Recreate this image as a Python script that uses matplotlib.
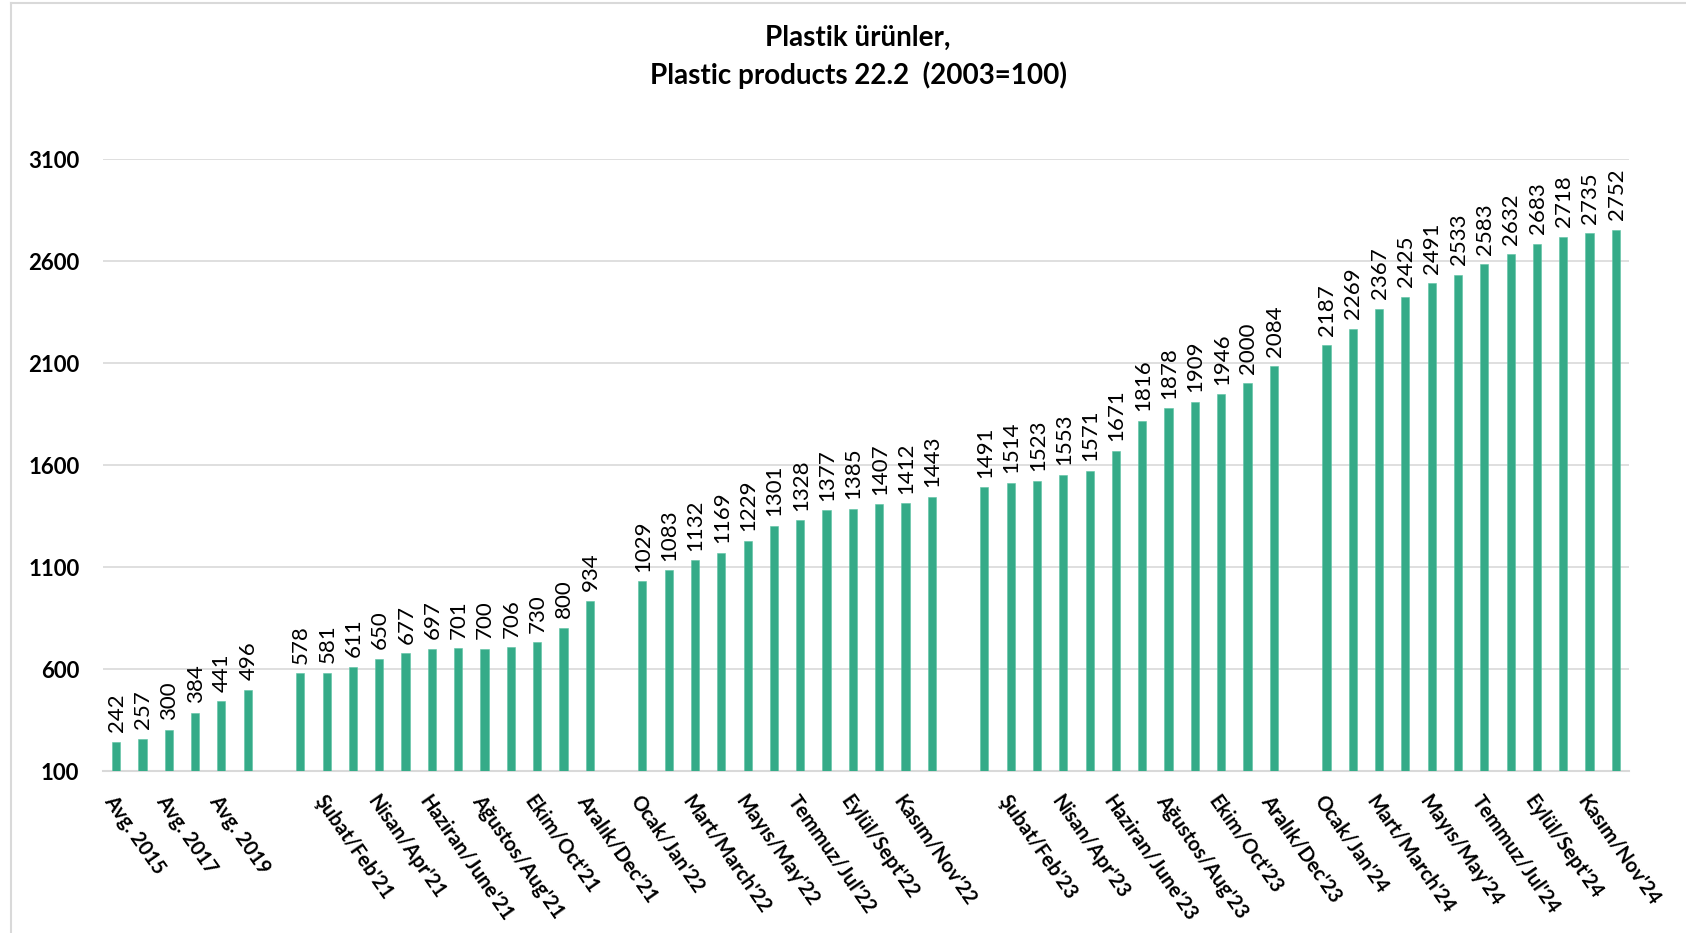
import numpy as np
import matplotlib
matplotlib.use("Agg")
import matplotlib.pyplot as plt
from matplotlib.lines import Line2D

plt.rcParams['font.family'] = ['Lato', 'DejaVu Sans']

# ---- data ----
avg_labels = ["Avg. 2015", "Avg. 2016", "Avg. 2017", "Avg. 2018", "Avg. 2019", "Avg. 2020"]
avg_values = [242, 257, 300, 384, 441, 496]

months_tr_en = ["Ocak/Jan", "Şubat/Feb", "Mart/March", "Nisan/Apr", "Mayıs/May", "Haziran/June",
                "Temmuz/Jul", "Ağustos/Aug", "Eylül/Sept", "Ekim/Oct", "Kasım/Nov", "Aralık/Dec"]

values_2021 = [578, 581, 611, 650, 677, 697, 701, 700, 706, 730, 800, 934]
values_2022 = [1029, 1083, 1132, 1169, 1229, 1301, 1328, 1377, 1385, 1407, 1412, 1443]
values_2023 = [1491, 1514, 1523, 1553, 1571, 1671, 1816, 1878, 1909, 1946, 2000, 2084]
values_2024 = [2187, 2269, 2367, 2425, 2491, 2533, 2583, 2632, 2683, 2718, 2735, 2752]

y_ticks = [100, 600, 1100, 1600, 2100, 2600, 3100]

# build category sequence with blank gap categories between groups
categories = []
values = []
def add_group(labels, vals, gap=True):
    categories.extend(labels)
    values.extend(vals)
    if gap:
        categories.append("")
        values.append(np.nan)

add_group(avg_labels, avg_values)
add_group([f"{m}'21" for m in months_tr_en], values_2021)
add_group([f"{m}'22" for m in months_tr_en], values_2022)
add_group([f"{m}'23" for m in months_tr_en], values_2023)
add_group([f"{m}'24" for m in months_tr_en], values_2024, gap=False)

x = np.arange(len(categories))
values = np.array(values, dtype=float)

# ---- figure ----
W, H = 1686, 933
fig = plt.figure(figsize=(W / 100, H / 100), dpi=100)
fig.patch.set_facecolor('white')
ax = fig.add_axes([103 / W, 1 - 771 / H, (1629 - 103) / W, (771 - 159) / H])

bar_color = '#35AB88'
mask = ~np.isnan(values)
ax.bar(x[mask], values[mask] - 100, bottom=100, width=0.31, color=bar_color,
       edgecolor='#5CC3A3', linewidth=0.4, zorder=3)

for xi, v in zip(x[mask], values[mask]):
    ax.annotate(f"{int(v)}", (xi, v), xytext=(0.5, 7), textcoords='offset points',
                rotation=90, ha='center', va='bottom', fontsize=16, color='black',
                annotation_clip=False)

ax.set_xlim(-0.5, len(categories) - 0.5)
ax.set_ylim(100, 3100)
ax.set_yticks(y_ticks)
ax.set_yticklabels([str(t) for t in y_ticks], fontsize=16, fontweight='bold')
ax.yaxis.grid(True, color='#D9D9D9', linewidth=1.2, zorder=0)
ax.set_axisbelow(True)

shown = [c if i % 2 == 0 else "" for i, c in enumerate(categories)]
ax.set_xticks(x)
ax.set_xticklabels(shown, rotation=-55, ha='left', va='top', rotation_mode='anchor',
                   fontsize=14.5, fontweight='bold')
ax.tick_params(axis='x', length=0, pad=15)
ax.tick_params(axis='y', length=0, pad=17)

for s in ['top', 'right', 'left']:
    ax.spines[s].set_visible(False)
ax.spines['bottom'].set_color('#D9D9D9')
ax.spines['bottom'].set_linewidth(1.5)

fig.text(858 / W, 1 - 38 / H, "Plastik ürünler,", ha='center', va='center',
         fontsize=20, fontweight='bold')
fig.text(858 / W, 1 - 75 / H, "Plastic products 22.2  (2003=100)", ha='center', va='center',
         fontsize=20, fontweight='bold')

# chart-area border (left and top visible)
fig.add_artist(Line2D([11 / W, 11 / W], [0, 1 - 3 / H], transform=fig.transFigure,
                      color='#D9D9D9', linewidth=1.5))
fig.add_artist(Line2D([11 / W, 1], [1 - 3 / H, 1 - 3 / H], transform=fig.transFigure,
                      color='#D9D9D9', linewidth=1.5))

fig.savefig("out.png", dpi=100, facecolor='white')
